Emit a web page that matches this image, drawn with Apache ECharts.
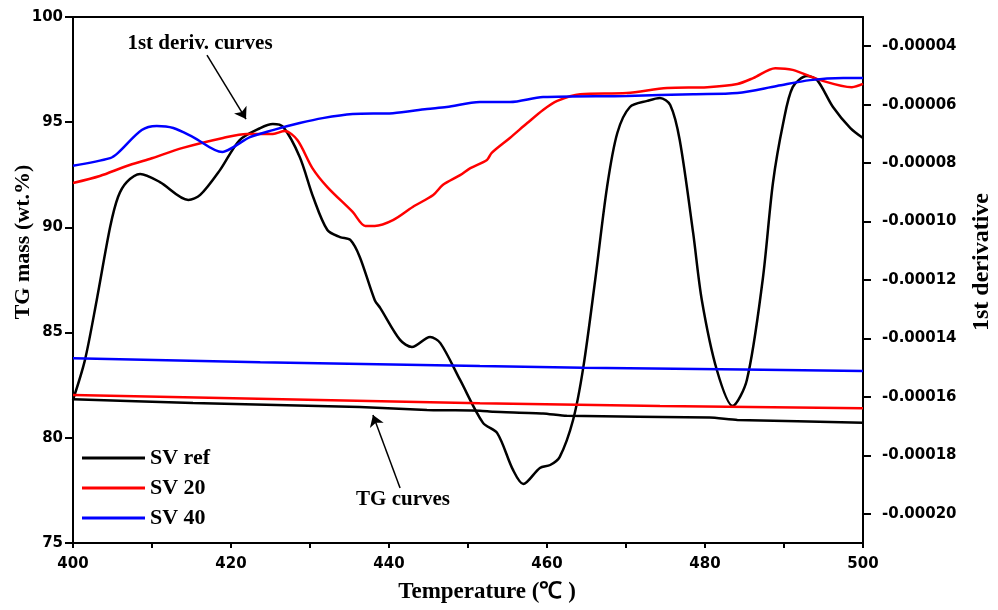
<!DOCTYPE html>
<html>
<head>
<meta charset="utf-8">
<script src="https://cdn.jsdelivr.net/npm/echarts@6/dist/echarts.min.js"></script>
<style>html,body{margin:0;padding:0;background:#fff}#c{width:998px;height:610px}</style>
</head>
<body>
<div id="c"></div>
<script>
// ---- Data (temperature in °C) ----
// 1st derivative curves, values in units of 1e-5
const refDerivT = [400.0,401.5,403.0,404.7,405.7,406.8,408.5,411.0,414.6,416.1,418.6,421.1,423.7,425.3,426.6,428.7,430.4,432.2,433.8,435.1,436.3,438.2,438.9,441.4,442.9,445.2,446.5,449.0,451.9,453.7,455.7,457.0,459.1,460.4,461.6,463.3,464.6,466.1,467.6,468.9,470.5,472.7,474.3,475.6,476.8,478.5,479.6,481.5,483.5,485.3,487.3,488.6,489.9,491.1,492.9,494.2,496.2,498.4,500.0];
const refDerivE5 = [-16.1,-14.75,-12.69,-10.19,-9.16,-8.65,-8.37,-8.65,-9.26,-9.09,-8.24,-7.21,-6.80,-6.66,-6.76,-7.79,-9.16,-10.29,-10.53,-10.63,-11.21,-12.69,-12.96,-14.05,-14.29,-13.95,-14.16,-15.42,-16.89,-17.24,-18.50,-18.98,-18.43,-18.33,-18.06,-16.79,-14.98,-12.0,-8.82,-6.97,-6.08,-5.87,-5.77,-6.01,-7.21,-10.39,-12.69,-15.08,-16.31,-15.42,-12.0,-8.68,-6.63,-5.40,-5.02,-5.16,-6.08,-6.80,-7.14];

const sv20DerivT = [400.0,403.4,406.8,409.7,413.9,419.0,422.0,425.3,426.8,428.4,430.3,432.2,435.4,437.0,438.2,440.5,443.0,445.6,446.8,449.0,450.3,452.4,453.0,455.3,457.5,459.5,461.3,464.2,470.1,475.2,480.3,484.1,486.1,488.9,491.1,494.6,498.6,500.0];
const sv20DerivE5 = [-8.68,-8.44,-8.10,-7.86,-7.48,-7.14,-7.00,-7.00,-6.90,-7.21,-8.17,-8.82,-9.67,-10.15,-10.15,-9.95,-9.50,-9.09,-8.75,-8.41,-8.17,-7.89,-7.65,-7.14,-6.63,-6.18,-5.87,-5.64,-5.60,-5.43,-5.40,-5.29,-5.09,-4.75,-4.81,-5.16,-5.40,-5.29];

const sv40DerivT = [400.0,404.7,405.7,408.7,410.6,412.7,415.2,418.9,420.3,422.4,425.3,428.7,431.6,435.4,440.5,444.8,447.3,451.5,455.3,459.5,470.1,478.5,484.1,489.1,493.3,497.5,500.0];
const sv40DerivE5 = [-8.09,-7.83,-7.65,-6.87,-6.73,-6.80,-7.11,-7.62,-7.45,-7.11,-6.87,-6.63,-6.46,-6.32,-6.29,-6.15,-6.08,-5.91,-5.91,-5.74,-5.70,-5.64,-5.60,-5.36,-5.16,-5.09,-5.09];

// TG curves, wt.%
const refTGT = [400.0,415.2,436.3,444.8,451.5,453.2,459.5,462.5,480.6,484.1,500.0];
const refTGV = [81.83,81.65,81.46,81.32,81.29,81.24,81.16,81.05,80.96,80.85,80.72];
const sv20TGT = [400.0,451.5,474.3,500.0];
const sv20TGV = [82.03,81.64,81.51,81.40];
const sv40TGT = [400.0,423.7,451.5,464.6,484.8,500.0];
const sv40TGV = [83.78,83.59,83.41,83.33,83.25,83.17];

// axis ticks
const rightTicks = [-0.00020,-0.00018,-0.00016,-0.00014,-0.00012,-0.00010,-0.00008,-0.00006,-0.00004];

// annotation arrows (data coords on temperature / TG axis)
const derivArrow = [[416.96, 98.19], [421.9, 95.15]];
const tgArrow = [[441.4, 77.61], [437.97, 81.08]];

const zip = (a, b, k) => a.map((t, i) => [t, b[i] * (k || 1)]);

const BLACK = '#000000', RED = '#ff0000', BLUE = '#0000ff';
const tickFont = { fontFamily: 'DejaVu Sans', fontWeight: 'bold', fontSize: 15, color: '#000' };
const serif = 'Liberation Serif';

const chart = echarts.init(document.getElementById('c'), null, { renderer: 'canvas' });
const axisLine = { show: true, onZero: false, lineStyle: { color: '#000', width: 2 } };

chart.setOption({
  animation: false,
  backgroundColor: '#fff',
  grid: { left: 73, right: 135, top: 17, bottom: 67, containLabel: false },
  legend: {
    orient: 'vertical', left: 77, top: 442,
    icon: 'rect', itemWidth: 63, itemHeight: 3, itemGap: 8,
    data: ['SV ref', 'SV 20', 'SV 40'],
    textStyle: { fontFamily: serif, fontWeight: 'bold', fontSize: 22, color: '#000', lineHeight: 22 }
  },
  xAxis: [{
    type: 'value', min: 400, max: 500, interval: 20,
    axisLine: axisLine,
    axisTick: { show: true, inside: false, length: 5, lineStyle: { color: '#000', width: 2 } },
    minorTick: { show: true, splitNumber: 2, length: 5, lineStyle: { color: '#000', width: 2 } },
    axisLabel: Object.assign({ margin: 14 }, tickFont),
    splitLine: { show: false }, minorSplitLine: { show: false }
  }, {
    type: 'value', min: 400, max: 500, position: 'top',
    axisLine: axisLine, axisTick: { show: false }, axisLabel: { show: false },
    splitLine: { show: false }
  }],
  yAxis: [{
    type: 'value', min: 75, max: 100, interval: 5, position: 'left',
    axisLine: axisLine,
    axisTick: { show: true, inside: false, length: 8, lineStyle: { color: '#000', width: 2 } },
    axisLabel: Object.assign({ margin: 10 }, tickFont),
    splitLine: { show: false }
  }, {
    type: 'value', min: -0.00021, max: -0.00003, position: 'right',
    axisLine: axisLine,
    axisTick: { show: true, inside: false, length: 8, customValues: rightTicks, lineStyle: { color: '#000', width: 2 } },
    axisLabel: Object.assign({ margin: 19, customValues: rightTicks, formatter: v => v.toFixed(5) }, tickFont),
    splitLine: { show: false }
  }],
  graphic: [
    { type: 'text', x: 23, y: 242, rotation: Math.PI / 2,
      style: { text: 'TG mass (wt.%)', font: 'bold 22px "Liberation Serif"', fill: '#000', textAlign: 'center', textVerticalAlign: 'middle' } },
    { type: 'text', x: 982, y: 262, rotation: Math.PI / 2,
      style: { text: '1st derivative', font: 'bold 24px "Liberation Serif"', fill: '#000', textAlign: 'center', textVerticalAlign: 'middle' } },
    { type: 'text', x: 487, y: 592,
      style: { text: 'Temperature (℃ )', font: 'bold 23px "Liberation Serif"', fill: '#000', textAlign: 'center', textVerticalAlign: 'middle' } },
    { type: 'text', x: 200, y: 44,
      style: { text: '1st deriv. curves', font: 'bold 21px "Liberation Serif"', fill: '#000', textAlign: 'center', textVerticalAlign: 'middle' } },
    { type: 'text', x: 403, y: 500,
      style: { text: 'TG curves', font: 'bold 21px "Liberation Serif"', fill: '#000', textAlign: 'center', textVerticalAlign: 'middle' } }
  ],
  series: [
    { name: 'SV ref', type: 'line', xAxisIndex: 0, yAxisIndex: 1, data: zip(refDerivT, refDerivE5, 1e-5),
      showSymbol: false, symbol: 'none', smooth: 0.3, lineStyle: { color: BLACK, width: 2.5 }, itemStyle: { color: BLACK }, z: 3 },
    { name: 'SV 20', type: 'line', xAxisIndex: 0, yAxisIndex: 1, data: zip(sv20DerivT, sv20DerivE5, 1e-5),
      showSymbol: false, symbol: 'none', smooth: 0.3, lineStyle: { color: RED, width: 2.5 }, itemStyle: { color: RED }, z: 3 },
    { name: 'SV 40', type: 'line', xAxisIndex: 0, yAxisIndex: 1, data: zip(sv40DerivT, sv40DerivE5, 1e-5),
      showSymbol: false, symbol: 'none', smooth: 0.3, lineStyle: { color: BLUE, width: 2.5 }, itemStyle: { color: BLUE }, z: 3 },
    { name: 'SV ref', type: 'line', xAxisIndex: 0, yAxisIndex: 0, data: zip(refTGT, refTGV),
      showSymbol: false, symbol: 'none', smooth: 0.2, lineStyle: { color: BLACK, width: 2.5 }, itemStyle: { color: BLACK },
      markLine: {
        silent: true, symbol: ['none', 'arrow'], symbolSize: 11,
        label: { show: false },
        lineStyle: { color: '#000', width: 1.5, type: 'solid' },
        data: [
          [{ coord: derivArrow[0] }, { coord: derivArrow[1] }],
          [{ coord: tgArrow[0] }, { coord: tgArrow[1] }]
        ]
      } },
    { name: 'SV 20', type: 'line', xAxisIndex: 0, yAxisIndex: 0, data: zip(sv20TGT, sv20TGV),
      showSymbol: false, symbol: 'none', lineStyle: { color: RED, width: 2.5 }, itemStyle: { color: RED } },
    { name: 'SV 40', type: 'line', xAxisIndex: 0, yAxisIndex: 0, data: zip(sv40TGT, sv40TGV),
      showSymbol: false, symbol: 'none', lineStyle: { color: BLUE, width: 2.5 }, itemStyle: { color: BLUE } }
  ]
});
</script>
</body>
</html>
